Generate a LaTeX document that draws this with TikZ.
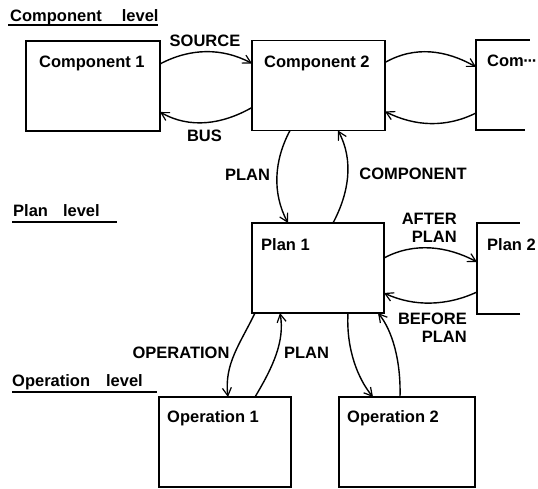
\documentclass[tikz,border=0pt]{standalone}
\usepackage{fontspec}
\setmainfont{Liberation Sans}
\usetikzlibrary{arrows.meta}
\begin{document}
\begin{tikzpicture}[x=1pt,y=1pt,
  box/.style={draw,line width=1.6pt,minimum width=#1,minimum height=90pt,inner sep=0pt,outer sep=0pt},
  openbox/.style={minimum width=#1,minimum height=90pt,inner sep=0pt,outer sep=0pt},
  txt/.style={font=\fontsize{16.5}{18}\selectfont\bfseries,inner sep=0pt,anchor=base west},
  lbl/.style={font=\fontsize{16.5}{18}\selectfont\bfseries,inner sep=0pt,anchor=base},
  rlbl/.style={font=\fontsize{16.5}{18}\selectfont\bfseries,inner sep=0pt,anchor=base east,align=right},
  arc/.style={line width=1.4pt,-{Straight Barb[length=8pt,width=9pt,line width=1.2pt]}},
  uline/.style={line width=1.4pt}]
\useasboundingbox (0,0) rectangle (538,489);
% level titles
\node[txt] (tcomp) at (10,467) {Component\hspace{20pt}level};
\draw[uline] (8,464) -- (158,464);
\node[txt] (tplan) at (13,272) {Plan\hspace{15pt}level};
\draw[uline] (12,267) -- (117,267);
\node[txt] (top) at (12,102) {Operation\hspace{16pt}level};
\draw[uline] (12,97) -- (157,97);
% boxes
\node[box=134pt] (c1) at (93,403) {};
\node[box=133pt] (c2) at (318.5,403.5) {};
\node[openbox=54pt] (c3) at (503,404) {};
\draw[line width=1.6pt] ([xshift=-5pt]c3.south east) -- (c3.south west) -- (c3.north west) -- (c3.north east);
\node[box=132pt] (p1) at (318,221) {};
\node[openbox=43pt,minimum height=91pt] (p2) at (498.5,220.5) {};
\draw[line width=1.6pt] (p2.south east) -- (p2.south west) -- (p2.north west) -- (p2.north east);
\node[box=132pt] (o1) at (225,47) {};
\node[box=136pt] (o2) at (407,47) {};
% box texts
\node[txt] (tc1) at (39,421) {Component 1};
\node[txt] (tc2) at (264,421) {Component 2};
\node[txt] (tc3) at (487,422) {Com\kern-0.5pt·\kern-1.2pt·\kern-1.2pt·};
\node[txt] (tp1) at (261,238) {Plan 1};
\node[txt] (tp2) at (487,238) {Plan 2};
\node[txt] (to1) at (167,66) {Operation 1};
\node[txt] (to2) at (347,66) {Operation 2};
% component level arcs
\draw[arc] ([yshift=-23pt]c1.north east) .. controls +(30,16) and +(-30,16) .. ([yshift=-23pt]c2.north west);
\draw[arc] ([yshift=23pt]c2.south west) .. controls +(-30,-17) and +(30,-17) .. ([yshift=19pt]c1.south east);
\draw[arc] ([yshift=-22pt]c2.north east) .. controls +(30,17) and +(-30,17) .. ([yshift=-27pt]c3.north west);
\draw[arc] ([yshift=17pt]c3.south west) .. controls +(-30,-15) and +(30,-15) .. ([yshift=19pt]c2.south east);
\node[lbl] (lsrc) at (205,442) {SOURCE};
\node[lbl] (lbus) at (204.5,347) {BUS};
% component <-> plan
\draw[arc] ([xshift=38pt]c2.south west) .. controls +(-16,-30) and +(-16,30) .. ([xshift=36pt]p1.north west);
\draw[arc] ([xshift=81pt]p1.north west) .. controls +(16,30) and +(16,-30) .. ([xshift=86pt]c2.south west);
\node[lbl] (lplan1) at (247.5,308) {PLAN};
\node[lbl] (lcomp) at (413,309) {COMPONENT};
% plan level arcs
\draw[arc] ([yshift=-35pt]p1.north east) .. controls +(30,16) and +(-30,16) .. ([yshift=-39pt]p2.north west);
\draw[arc] ([yshift=22pt]p2.south west) .. controls +(-30,-14) and +(30,-14) .. ([yshift=20pt]p1.south east);
\node[rlbl] (lafter) at (457,246) {AFTER\\PLAN};
\node[rlbl] (lbefore) at (467,146) {BEFORE\\PLAN};
% plan <-> operation
\draw[arc] ([xshift=3pt]p1.south west) .. controls +(-15,-31) and +(-4,33) .. ([xshift=69pt]o1.north west);
\draw[arc] ([xshift=96pt]o1.north west) .. controls +(18,30) and +(5,-28) .. ([xshift=28pt]p1.south west);
\draw[arc] ([xshift=96pt]p1.south west) .. controls +(-2,-36) and +(-15,18) .. ([xshift=34pt]o2.north west);
\draw[arc] ([xshift=61pt]o2.north west) .. controls +(1,37) and +(14,-17) .. ([xshift=126pt]p1.south west);
\node[lbl] (lop) at (181,130) {OPERATION};
\node[lbl] (lplan2) at (306.5,130) {PLAN};
\end{tikzpicture}
\end{document}
